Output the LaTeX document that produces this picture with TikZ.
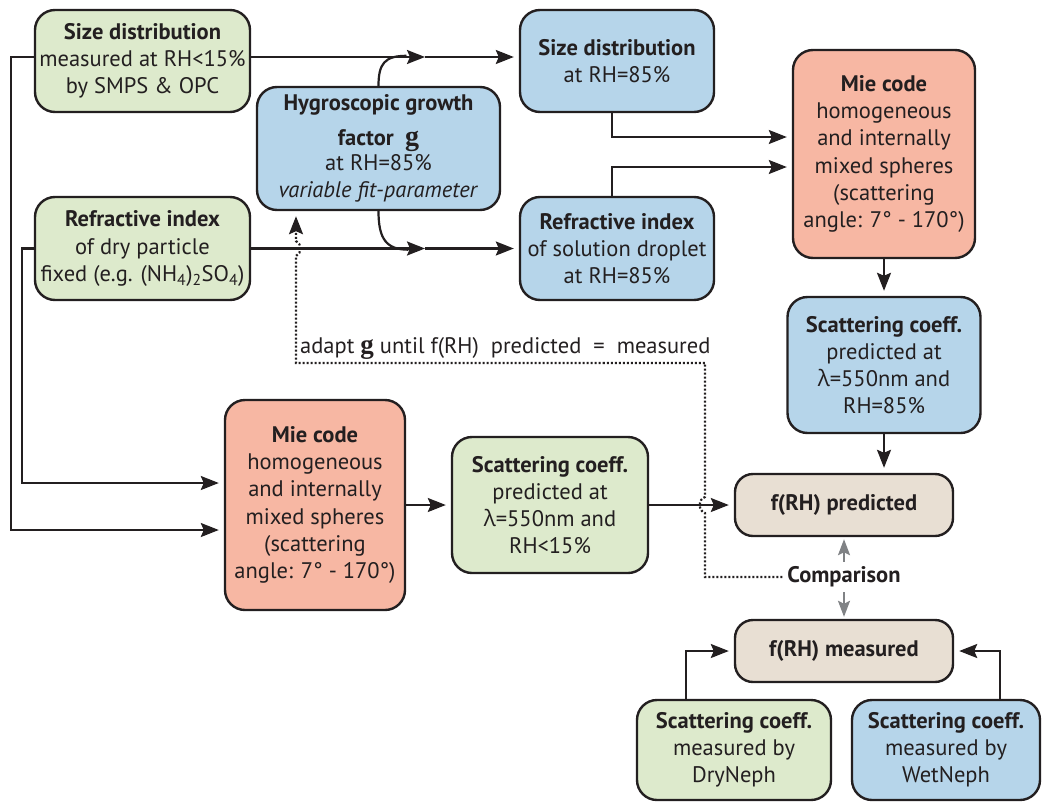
\documentclass[tikz,border=0pt]{standalone}
\usepackage{fontspec}
\setmainfont{PT Sans}
\newfontfamily\grk{Open Sans}
\newfontfamily\serifg{Liberation Serif}
\usetikzlibrary{arrows.meta,calc}
\definecolor{gfill}{RGB}{221,234,204}
\definecolor{bfill}{RGB}{182,213,234}
\definecolor{sfill}{RGB}{247,183,163}
\definecolor{tfill}{RGB}{232,223,211}
\definecolor{linec}{RGB}{35,31,32}
\definecolor{grayc}{RGB}{128,130,133}
\begin{document}
\begin{tikzpicture}[x=1pt,y=1pt,
  box/.style={draw=linec, line width=2.4pt, rounded corners=20pt, align=center, inner sep=0pt,
    font=\fontsize{22.5}{27.2}\selectfont, text=linec},
  gbox/.style={box, fill=gfill},
  bbox/.style={box, fill=bfill},
  sbox/.style={box, fill=sfill},
  tbox/.style={box, fill=tfill, rounded corners=18pt},
  ln/.style={draw=linec, line width=2.2pt},
  marr/.style={-{Stealth[length=18pt,width=14pt,inset=3pt]}},
  arr/.style={marr, shorten >=5pt},
  gl/.style={draw=grayc, line width=2.2pt, -{Stealth[length=16pt,width=12pt,inset=3pt]}, shorten >=2pt},
  dl/.style={draw=linec, line width=2.2pt, dash pattern=on 2pt off 2pt},
  lbl/.style={font=\fontsize{22.5}{27}\selectfont, text=linec, inner sep=0pt}
]
\useasboundingbox (0,0) rectangle (1043,-803);

\node[gbox, minimum width=215, minimum height=102] (sd0) at (142.5,-61)
  {\textbf{Size distribution}\\measured at RH<15\%\\by SMPS \& OPC};
\node[gbox, minimum width=215, minimum height=103] (ri0) at (142.5,-248.5)
  {\textbf{Refractive index}\\of dry particle\\fixed (e.g. (NH\textsubscript{4})\textsubscript{2}SO\textsubscript{4})};
\node[bbox, minimum width=243, minimum height=123] (hg) at (378.5,-148.5)
  {\textbf{Hygroscopic growth}\\[8pt]\textbf{factor\ \ {\serifg\fontsize{28}{28}\selectfont g}}\\[-2pt]at RH=85\%\\\textit{variable fit-parameter}};
\node[bbox, minimum width=194, minimum height=102] (sd85) at (617,-61)
  {\textbf{Size distribution}\\at RH=85\%};
\node[bbox, minimum width=194, minimum height=103] (ri85) at (617,-248.5)
  {\textbf{Refractive index}\\of solution droplet\\at RH=85\%};
\node[sbox, minimum width=182, minimum height=208] (mie1) at (884,-154)
  {\textbf{Mie code}\\homogeneous\\and internally\\mixed spheres\\(scattering\\angle: 7° - 170°)};
\node[bbox, minimum width=193, minimum height=136] (sc85) at (884,-365)
  {\textbf{Scattering coeff.}\\predicted at\\{\grk λ}=550nm and\\RH=85\%};
\node[sbox, minimum width=180, minimum height=210] (mie2) at (315,-505)
  {\textbf{Mie code}\\homogeneous\\and internally\\mixed spheres\\(scattering\\angle: 7° - 170°)};
\node[gbox, minimum width=196, minimum height=136] (sc15) at (550,-505)
  {\textbf{Scattering coeff.}\\predicted at\\{\grk λ}=550nm and\\RH<15\%};
\node[tbox, minimum width=218, minimum height=62] (fp) at (844,-505)
  {\textbf{f(RH) predicted}};
\node[tbox, minimum width=218, minimum height=62] (fm) at (844,-651)
  {\textbf{f(RH) measured}};
\node[gbox, minimum width=194, minimum height=100] (dry) at (734,-750)
  {\textbf{Scattering coeff.}\\measured by\\DryNeph};
\node[bbox, minimum width=188, minimum height=100] (wet) at (946,-750)
  {\textbf{Scattering coeff.}\\measured by\\WetNeph};
\node[lbl, inner sep=5pt] (cmp) at (844,-577) {\textbf{Comparison}};
\node[lbl, anchor=base west] (adapt) at (300,-353)
  {adapt {\serifg\bfseries\fontsize{27}{27}\selectfont g} until f(RH)\ \ predicted\ \ =\ \ measured};

\coordinate (j1) at (425,-57);
\coordinate (j2) at (425,-248.5);
% top and refractive lines with mid arrows
\draw[ln,marr] (sd0.east |- j1) -- (j1);
\draw[ln,arr] (j1) -- (sd85.west |- j1);
\draw[ln] (hg.north) .. controls ($(hg.north)+(0,22)$) and ($(hg.north)+(6,30)$) .. ($(hg.north)+(28,30)$);
\draw[ln,marr] (ri0.east) -- (j2);
\draw[ln,arr] (j2) -- (ri85.west);
\draw[ln] (hg.south) .. controls ($(hg.south)+(0,-28)$) and ($(hg.south)+(8,-38.5)$) .. ($(hg.south)+(30,-38.5)$);
% left feeds
\draw[ln,arr] (sd0.west |- j1) -- ++(-23,0) |- ($(mie2.west)+(0,-25)$);
\draw[ln,arr] (ri0.west) -- ++(-12,0) |- ($(mie2.west)+(0,22)$);
% to upper Mie
\draw[ln,arr] ([xshift=-5pt]sd85.south) |- ($(mie1.west)+(0,17)$);
\draw[ln,arr] ([xshift=-5pt]ri85.north) |- ($(mie1.west)+(0,-13)$);
\draw[ln,arr] (mie1.south) -- (sc85.north);
\draw[ln,arr] (sc85.south) -- (sc85.south |- fp.north);
\draw[ln,arr] (mie2.east) -- (sc15.west);
\draw[ln,arr] (sc15.east) -- (fp.west);
% comparison
\draw[gl] (cmp.north) -- (fp.south);
\draw[gl] (cmp.south) -- (fm.north);
% measured
\draw[ln,arr] ($(dry.north)+(-48,0)$) |- (fm.west);
\draw[ln,arr] ($(wet.north)+(54,0)$) |- (fm.east);
% dotted feedback
\draw[dl,arr] (cmp.west) -- (705,-577) -- (705,-513)
  .. controls (698,-511) and (698,-499) .. (705,-497) -- (705,-363) -- (296,-363) -- (296,-256)
  .. controls (302,-253) and (302,-244) .. (296,-241) -- (hg.south -| 296,0);
\end{tikzpicture}
\end{document}
